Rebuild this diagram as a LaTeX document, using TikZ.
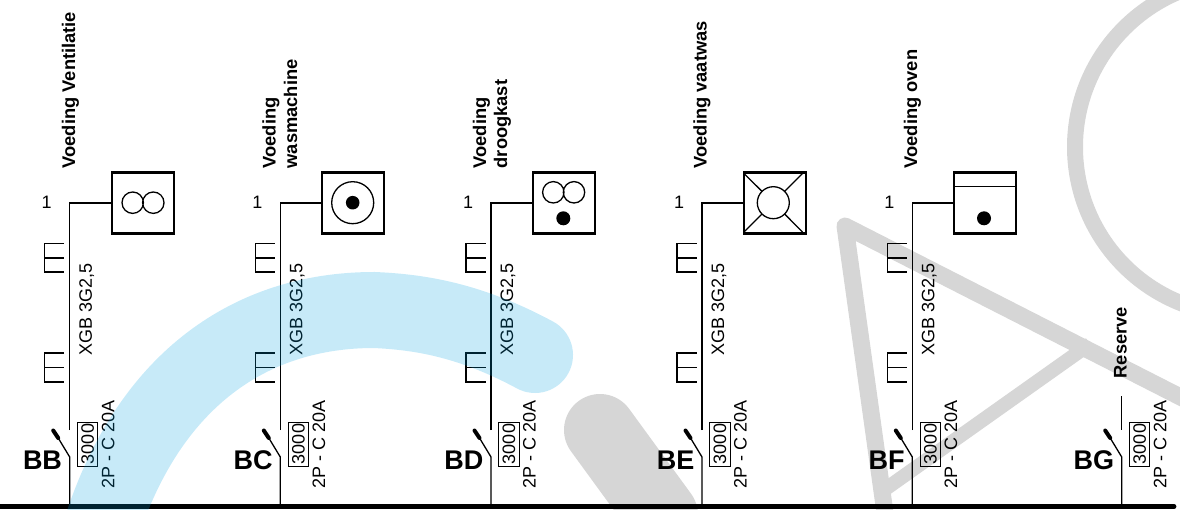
\documentclass[tikz,border=0pt]{standalone}
\usepackage{fontspec}
\setmainfont{Liberation Sans}
\definecolor{wmblue}{RGB}{0,160,225}
\tikzset{
  wire/.style={line width=1.3pt,black},
  thick box/.style={draw=black,line width=2.2pt,fill=white,minimum width=62pt,minimum height=61pt,inner sep=0pt,outer sep=0pt},
  sym/.style={draw=black,line width=1.3pt},
  blob/.style={fill=black},
  ratebox/.style={draw=black,line width=1pt,rotate=90,font=\fontsize{18}{18}\selectfont,inner sep=1pt,minimum width=44pt,minimum height=20.5pt,outer sep=0pt},
  vtext/.style={rotate=90,inner sep=0pt,font=\fontsize{18}{18}\selectfont},
  title/.style={rotate=90,anchor=base west,inner sep=0pt,font=\fontsize{18.3}{18}\selectfont\bfseries},
  tag/.style={anchor=east,inner sep=0pt,font=\fontsize{27}{27}\selectfont\bfseries},
  num/.style={inner sep=0pt,font=\fontsize{18}{18}\selectfont}
}
\newcommand\feederbase[2]{%
  \begin{scope}[xshift=#1pt]
    \coordinate (#2bus) at (0,505);
    \coordinate (#2hinge) at (0,457);
    \coordinate (#2contact) at (0,430);
    \coordinate (#2arm) at (-11.5,438);
    \coordinate (#2tip) at (-16.5,430.5);
    \node[tag] (#2tag) at (-7.5,460.5) {#2};
    \node[ratebox] (#2rate) at (18,444) {3000};
    \node[vtext] (#2breaker) at (38.5,444) {2P - C 20A};
    \draw[wire] (#2bus) -- (#2hinge) -- (#2arm);
    \draw[line width=4pt,line cap=round] (#2arm) -- (#2tip);
  \end{scope}}
\newcommand\feederrun[2]{%
  \begin{scope}[xshift=#1pt]
    \node[num] (#2num) at (-23,202) {1};
    \coordinate (#2corner) at (0,203);
    \coordinate (#2top) at (0,430);
    \node[vtext] (#2cable) at (17,309.5) {XGB 3G2,5};
    \draw[line width=1.5pt] (-5.5,243.5) -- (-25,243.5) -- (-25,272) -- (-5.5,272) (-25,258) -- (-5.5,258);
    \draw[line width=1.5pt] (-5.5,353) -- (-25,353) -- (-25,382) -- (-5.5,382) (-25,367.5) -- (-5.5,367.5);
    \node[thick box] (#2load) at (73,203) {};
    \draw[wire] (#2top) -- (#2corner) -- (#2load.west);
  \end{scope}}
\begin{document}
\begin{tikzpicture}[x=1pt,y=-1pt]
\useasboundingbox (0,0) rectangle (1180,510);
\feederrun{69.7}{BB}
\feederrun{280.3}{BC}
\feederrun{491}{BD}
\feederrun{702}{BE}
\feederrun{912.3}{BF}
\feederbase{69.7}{BB}
\feederbase{280.3}{BC}
\feederbase{491}{BD}
\feederbase{702}{BE}
\feederbase{912.3}{BF}
\feederbase{1121.7}{BG}
\coordinate (BGend) at (1121.7,396);
\draw[wire] (BGend) -- (BGcontact);
\coordinate (busL) at (-3,506.5);
\coordinate (busR) at (1174,506.5);
\draw[line width=4.8pt,line cap=round] (busL) -- (busR);
\draw[sym] (132.7,202.7) circle[radius=10.7] (153.3,202.7) circle[radius=10.7];
\draw[sym] (352.7,202.7) circle[radius=21];
\fill[blob] (352.7,202.7) circle[radius=6.8];
\draw[sym] (553.3,192.3) circle[radius=10.7] (574,192.3) circle[radius=10.7];
\fill[blob] (563.3,218.3) circle[radius=7];
\draw[sym] (773.3,202.7) circle[radius=16];
\draw[sym] (744,173.5) -- (762,191.4) (802.5,173.5) -- (784.6,191.4) (744,232) -- (762,214) (802.5,232) -- (784.6,214);
\draw[sym] (954,186.7) -- (1016,186.7);
\fill[blob] (984,218.3) circle[radius=7];
\node[title] (t1) at (75,168.5) {Voeding Ventilatie};
\node[title] (t2a) at (275.5,168.5) {Voeding};
\node[title] (t2b) at (297,168.5) {wasmachine};
\node[title] (t3a) at (486,168.5) {Voeding};
\node[title] (t3b) at (507,168.5) {droogkast};
\node[title] (t4) at (706.5,168.5) {Voeding vaatwas};
\node[title] (t5) at (917,168.5) {Voeding oven};
\node[title] (t6) at (1126.5,378.5) {Reserve};
\begin{scope}
  \clip (0,0) rectangle (1180,510);
  \draw[wmblue,opacity=0.22,line width=76pt,line cap=round] (535,355) .. controls (470,320) and (420,312) .. (374,310) .. controls (250,310) and (152,380) .. (104,520);
  \begin{scope}[transparency group,opacity=0.16]
    \draw[black,line width=72pt,line cap=round] (600,430) -- (662,515);
    \draw[black,line width=17pt,line join=round] (1200,407) -- (845,226) -- (886,520);
    \draw[black,line width=14pt] (1090,344) -- (884,490);
    \draw[black,line width=16pt] (1243,147) circle[radius=168];
  \end{scope}
\end{scope}
\end{tikzpicture}
\end{document}
